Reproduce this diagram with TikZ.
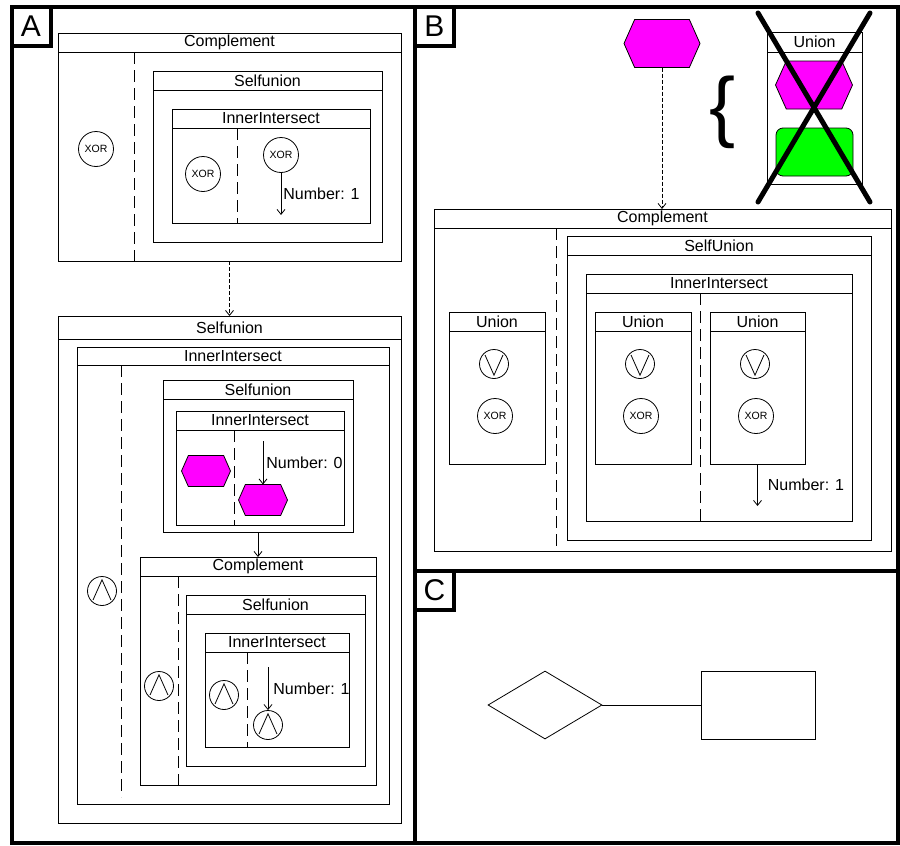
\documentclass[tikz,border=0pt]{standalone}
\usepackage{fontspec}
\setmainfont{Liberation Sans}
\definecolor{dgmagenta}{HTML}{FF00FF}
\definecolor{dggreen}{HTML}{00FF00}
\usepackage{tikz}
\usetikzlibrary{arrows.meta, calc, shapes.geometric}

\begin{document}
\begin{tikzpicture}[x=1pt, y=-1pt,
    panel/.style={draw, line width=4pt, inner sep=0pt, outer sep=0pt},
    tag/.style={panel, minimum width=39pt, minimum height=39pt, font=\fontsize{30}{30}\selectfont},
    grp/.style={draw, line width=1pt, inner sep=0pt, outer sep=0pt},
    grpline/.style={line width=1pt},
    ttl/.style={font=\fontsize{16}{18}\selectfont, inner sep=0pt},
    divider/.style={line width=1pt, dash pattern=on 12pt off 6pt},
    arr/.style={line width=0.8pt, -{Straight Barb[length=5pt,width=8pt]}},
    darr/.style={arr, dash pattern=on 4pt off 2pt},
    numlbl/.style={font=\fontsize{16}{18}\selectfont, anchor=west, inner sep=0pt},
    xorgate/.style={circle, draw, line width=0.8pt, minimum size=35pt, inner sep=0pt, font=\fontsize{10.5}{12}\selectfont},
    andgate/.style={circle, draw, line width=0.8pt, minimum size=29pt, inner sep=0pt},
    gateline/.style={line width=0.8pt},
    hexnode/.style={inner sep=0pt, outer sep=0pt},
    hexfill/.style={fill=dgmagenta, draw=black, line width=0.8pt},
    cross/.style={line width=5pt, line cap=round}
  ]
  \useasboundingbox (0,0) rectangle (900,846);

  % panels and their letters
  \node[panel, minimum width=403.5pt, minimum height=836.5pt] (pA) at (213.25,424.75) {};
  \node[panel, minimum width=483pt, minimum height=564.5pt] (pB) at (656.5,288.75) {};
  \node[panel, minimum width=483pt, minimum height=272pt] (pC) at (656.5,707) {};
  \foreach \p/\t in {pA/A, pB/B, pC/C}
    \node[tag, anchor=north west] (\p-tag) at (\p.north west) {\t};

  % boxes with a title bar
  \foreach \nm/\xa/\ya/\xb/\yb/\hh/\ttl in {
      cA/58/33/401/261/19/Complement,
      suA/153/71/382/242/19/Selfunion,
      iiA/172/109/370/223/19/InnerIntersect,
      suB/58/316/401/823/23/Selfunion,
      iiB/77/347/389/804/18/InnerIntersect,
      suC/163/380/353/532/19/Selfunion,
      iiC/176/411/344/525/19/InnerIntersect,
      coD/140/557/376/785/19/Complement,
      suD/186/595/365/766/19/Selfunion,
      iiD/205/633/349/747/19/InnerIntersect,
      cE/434/209/891/551/19/Complement,
      suE/567/236/871/540/19/SelfUnion,
      iiE/586/274/852/521/19/InnerIntersect,
      unL/449/312/545/464/19/Union,
      unM/595/312/691/464/19/Union,
      unR/710/312/805/464/19/Union,
      unX/767/32/862/184/20/Union
    } {
      \node[grp, minimum width={(\xb-\xa)*1pt}, minimum height={(\yb-\ya)*1pt}] (\nm) at ({(\xa+\xb)/2},{(\ya+\yb)/2}) {};
      \draw[grpline] ([yshift={-\hh*1pt}]\nm.north west) -- ([yshift={-\hh*1pt}]\nm.north east);
      \node[ttl] (\nm-t) at ([yshift={-\hh*0.5pt}]\nm.north) {\ttl};
    }

  % dashed dividers
  \foreach \x/\ya/\yb in {134/52/261, 237/128/223, 121/365/797, 234/430/525,
                          178/576/785, 247/652/747, 556/228/551, 700/293/521}
    \draw[divider] (\x,\ya) -- (\x,\yb);

  % gates
  \foreach \nm/\x/\y in {xA/96/149, xB/203/174, xC/281/155, xD/495/416, xE/641/416, xF/756/416}
    \node[xorgate] (\nm) at (\x,\y) {XOR};
  \foreach \nm/\x/\y in {aA/102/591, aB/159/686, aC/224/695, aD/268/725} {
    \node[andgate] (\nm) at (\x,\y) {};
    \draw[gateline] ($(\nm.center)!0.85!(\nm.225)$) -- ($(\nm.center)!0.75!(\nm.north)$) -- ($(\nm.center)!0.85!(\nm.315)$);
  }
  \foreach \nm/\x/\y in {oA/494/364, oB/640/364, oC/755/364} {
    \node[andgate] (\nm) at (\x,\y) {};
    \draw[gateline] ($(\nm.center)!0.85!(\nm.135)$) -- ($(\nm.center)!0.75!(\nm.south)$) -- ($(\nm.center)!0.85!(\nm.45)$);
  }

  % hexagons
  \node[hexnode, minimum width=49pt, minimum height=31pt] (hA) at (206,471) {};
  \node[hexnode, minimum width=49pt, minimum height=31pt] (hB) at (263,500) {};
  \node[hexnode, minimum width=76pt, minimum height=48pt] (hT) at (662,43.5) {};
  \node[hexnode, minimum width=77pt, minimum height=48pt] (hU) at (814,85) {};
  \foreach \h in {hA, hB, hT, hU}
    \filldraw[hexfill] (\h.west) -- ($(\h.north west)!0.14!(\h.north east)$)
      -- ($(\h.north east)!0.14!(\h.north west)$) -- (\h.east)
      -- ($(\h.south east)!0.14!(\h.south west)$) -- ($(\h.south west)!0.14!(\h.south east)$) -- cycle;
  \node[draw, fill=dggreen, line width=0.8pt, rounded corners=7pt, minimum width=77pt, minimum height=48pt] (gU) at (814.5,152) {};

  % connectors
  \coordinate (e1) at (281,215);
  \coordinate (s2) at (263,441);
  \coordinate (s3) at (268,667);
  \coordinate (e4) at (757.5,506);
  \draw[darr] (cA.south) -- (suB.north);
  \draw[arr] (suC.south) -- (coD.north);
  \draw[darr] (hT.south) -- (hT.south |- cE.north);
  \draw[arr] (xC) -- (e1) node[numlbl, midway, xshift=2pt] {Number: 1};
  \draw[arr] (s2) -- (hB.north) node[numlbl, midway, xshift=3pt] {Number: 0};
  \draw[arr] (s3) -- (aD) node[numlbl, midway, xshift=5pt] {Number: 1};
  \draw[arr] (unR.south) -- (e4) node[numlbl, midway, xshift=10pt] {Number: 1};

  % brace and cross-out
  \node[inner sep=0pt, font=\fontsize{78}{78}\selectfont] (brc) at (723,112) {\{};
  \draw[cross] (758,13) -- (870,202);
  \draw[cross] (870,13) -- (758,202);

  % panel C
  \node[draw, diamond, line width=0.8pt, inner sep=0pt, minimum width=114pt, minimum height=68pt] (dC) at (545,705) {};
  \node[grp, minimum width=114pt, minimum height=68pt] (rC) at (758,705) {};
  \draw[grpline] (dC) -- (rC);
\end{tikzpicture}
\end{document}
